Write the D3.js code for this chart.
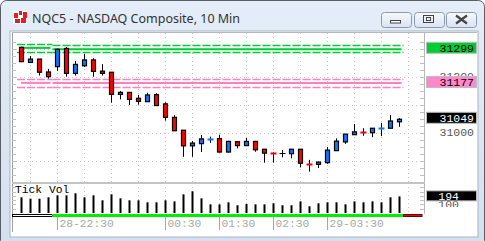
<!DOCTYPE html>
<html>
<head>
<meta charset="utf-8">
<script src="https://cdn.jsdelivr.net/npm/d3@7"></script>
<style>
  body { margin: 0; background: #fff; }
  svg { display: block; }
</style>
</head>
<body>
<div id="chart"></div>
<script>
// 10 minute bars, first bar at 21:50 on the 28th
const startTime = new Date(2025, 0, 28, 21, 50);
const opens = [31306, 31252, 31264, 31218, 31237, 31302, 31213, 31240, 31261, 31221,
  31217, 31138, 31145, 31124, 31112, 31137, 31104, 31056, 31010, 30954,
  30962, 30979, 30980, 30932, 30969, 30955, 30970, 30942, 30928, 30928,
  30926, 30942, 30892, 30888, 30894, 30937, 30968, 30994, 31003, 31001,
  31017, 31017, 31040];
const highs = [31308, 31275, 31264, 31229, 31301, 31307, 31257, 31282, 31267, 31246,
  31217, 31150, 31145, 31136, 31144, 31142, 31110, 31064, 31010, 30971,
  30993, 30987, 30994, 30972, 30970, 30982, 30970, 30942, 30931, 30939,
  30942, 30942, 30904, 30898, 30950, 30981, 30996, 31032, 31017, 31017,
  31036, 31064, 31053];
const lows = [31253, 31252, 31205, 31194, 31222, 31201, 31205, 31236, 31201, 31205,
  31108, 31120, 31100, 31101, 31112, 31098, 31044, 31008, 30915, 30915,
  30932, 30965, 30930, 30930, 30945, 30955, 30933, 30894, 30894, 30913,
  30910, 30877, 30862, 30875, 30890, 30937, 30961, 30994, 30990, 30985,
  30989, 31017, 31022];
const closes = [31255, 31264, 31217, 31201, 31299, 31213, 31245, 31261, 31220, 31213,
  31138, 31145, 31120, 31113, 31136, 31098, 31056, 31008, 30954, 30964,
  30979, 30980, 30932, 30970, 30955, 30970, 30940, 30928, 30927, 30928,
  30942, 30892, 30891, 30896, 30939, 30971, 30996, 31004, 31002, 31017,
  31018, 31043, 31049];
const volumes = [183, 167, 167, 183, 206, 206, 230, 183, 206, 148,
  218, 171, 148, 148, 125, 125, 148, 136, 218, 253,
  171, 101, 101, 125, 90, 105, 101, 101, 113, 90,
  90, 136, 78, 113, 125, 125, 101, 136, 125, 136,
  125, 183, 194];

// band levels: [upper dashed, solid, lower dashed], before and after the 22:30 session start
const greenLevels = [[31317, 31304, 31291], [31313, 31299, 31290]];
const pinkLevels = [[31193, 31179, 31165], [31193, 31179, 31163]];
const sessionStart = 4;

const tickIndex = [4, 16, 22, 28, 34];
const tickLabels = ["28-22:30", "00:30", "01:30", "02:30", "29-03:30"];
const priceLabels = [31200, 31000];
const lastTags = [
  { value: 31299, fill: "#00cc33", color: "#000" },
  { value: 31177, fill: "#ff88cc", color: "#000" },
  { value: 31049, fill: "#000", color: "#fff" }
];
const volumeLabel = 100;

const W = 485, H = 241;
const svg = d3.select("#chart").append("svg")
  .attr("width", W)
  .attr("height", H)
  .style("font-family", "'Liberation Mono', 'DejaVu Sans Mono', monospace");

const defs = svg.append("defs");
let g1 = defs.append("linearGradient").attr("id", "titleGrad").attr("x1", 0).attr("y1", 0).attr("x2", 0).attr("y2", 1);
g1.append("stop").attr("offset", 0).attr("stop-color", "#e4edf8");
g1.append("stop").attr("offset", 1).attr("stop-color", "#d3e0f1");
let g2 = defs.append("linearGradient").attr("id", "btnGrad").attr("x1", 0).attr("y1", 0).attr("x2", 0).attr("y2", 1);
g2.append("stop").attr("offset", 0).attr("stop-color", "#f6f9fd");
g2.append("stop").attr("offset", 1).attr("stop-color", "#d9e3f0");
defs.append("clipPath").attr("id", "volAxisClip")
  .append("rect").attr("x", 424).attr("y", 183).attr("width", 60).attr("height", 24);

// window frame
svg.append("rect").attr("x", 0.5).attr("y", 0.5).attr("width", W - 1).attr("height", H + 5)
  .attr("rx", 6).attr("fill", "url(#titleGrad)").attr("stroke", "#5a5f66");
svg.append("rect").attr("x", 10).attr("y", 31).attr("width", 468).attr("height", 206)
  .attr("fill", "#fff").attr("stroke", "#a8b4c2");

// title icon
const icon = svg.append("g").attr("transform", "translate(13,11)");
icon.append("rect").attr("width", 14).attr("height", 13).attr("fill", "#fff");
[[1, 2, 4, 5], [6, 0, 3, 4], [10, 1, 4, 6], [2, 8, 5, 4], [8, 7, 5, 5]].forEach(d => {
  icon.append("rect").attr("x", d[0]).attr("y", d[1]).attr("width", d[2]).attr("height", d[3]).attr("fill", "#e02020");
});

svg.append("text")
  .attr("x", 32).attr("y", 23)
  .attr("font-family", "'Noto Sans', 'DejaVu Sans', sans-serif")
  .attr("font-size", 13)
  .attr("fill", "#333")
  .attr("textLength", 208)
  .attr("lengthAdjust", "spacingAndGlyphs")
  .text("NQC5 - NASDAQ Composite, 10 Min");

// caption buttons
[381, 414, 446].forEach((bx, i) => {
  svg.append("rect").attr("x", bx + 0.5).attr("y", 12.5).attr("width", 30).attr("height", 15)
    .attr("rx", 3).attr("fill", "url(#btnGrad)").attr("stroke", "#8d9aab");
  if (i === 0) {
    svg.append("rect").attr("x", 390.5).attr("y", 20.5).attr("width", 10).attr("height", 2.5)
      .attr("fill", "#fff").attr("stroke", "#444");
  } else if (i === 1) {
    svg.append("rect").attr("x", 423.5).attr("y", 15.5).attr("width", 10).attr("height", 7)
      .attr("fill", "none").attr("stroke", "#444");
    svg.append("rect").attr("x", 426.5).attr("y", 17.5).attr("width", 4).attr("height", 3)
      .attr("fill", "none").attr("stroke", "#444");
  } else {
    svg.append("path").attr("d", "M456,15.5 L467,23.5 M467,15.5 L456,23.5")
      .attr("stroke", "#444").attr("stroke-width", 2.2).attr("fill", "none");
  }
});

// layout
const plotLeft = 12, plotRight = 424;
const priceTop = 33, priceBottom = 182;
const volTop = 183, volBottom = 213;

const times = d3.range(opens.length).map(i => d3.timeMinute.offset(startTime, 10 * i));
const x = d3.scaleTime()
  .domain([times[0], times[times.length - 1]])
  .range([21, 399]);
const step = x(times[1]) - x(times[0]);

const y = d3.scaleLinear().domain([30900, 31300]).range([161, 49]);
const yv = d3.scaleLinear().domain([0, 350]).range([volBottom, volTop]);

// grid lines
const gridTimes = d3.range(1, 44, 3).map(i => d3.timeMinute.offset(startTime, 10 * i));
const grid = svg.append("g")
  .attr("stroke", "#c8c8c8")
  .attr("stroke-dasharray", "1,3");
grid.selectAll(".vg").data(gridTimes).enter().append("line")
  .attr("x1", d => Math.round(x(d)) + 0.5).attr("x2", d => Math.round(x(d)) + 0.5)
  .attr("y1", priceTop).attr("y2", priceBottom);
grid.selectAll(".hg").data([30900, 31000, 31100, 31200, 31300]).enter().append("line")
  .attr("x1", plotLeft).attr("x2", plotRight)
  .attr("y1", d => Math.round(y(d)) + 0.5).attr("y2", d => Math.round(y(d)) + 0.5);
grid.selectAll(".vgv").data(gridTimes).enter().append("line")
  .attr("x1", d => Math.round(x(d)) + 0.5).attr("x2", d => Math.round(x(d)) + 0.5)
  .attr("y1", volTop).attr("y2", volBottom);

// panel borders and edge ticks
svg.append("line").attr("x1", plotLeft + 0.5).attr("x2", plotLeft + 0.5).attr("y1", priceTop).attr("y2", 232).attr("stroke", "#a0a0a0");
svg.append("line").attr("x1", plotRight + 0.5).attr("x2", plotRight + 0.5).attr("y1", priceTop).attr("y2", 214).attr("stroke", "#b8b8b8");
svg.append("line").attr("x1", plotLeft).attr("x2", 477).attr("y1", priceTop - 0.5).attr("y2", priceTop - 0.5).attr("stroke", "#b8b8b8");
svg.append("rect").attr("x", plotLeft).attr("y", priceBottom).attr("width", plotRight - plotLeft + 1).attr("height", 2).attr("fill", "#c4c4c4");

const minorTicks = d3.range(30825, 31350, 25);
svg.append("g").selectAll("line").data(minorTicks).enter().append("line")
  .attr("x1", plotRight - 4).attr("x2", plotRight)
  .attr("y1", d => Math.round(y(d)) + 0.5).attr("y2", d => Math.round(y(d)) + 0.5)
  .attr("stroke", "#c0c0c0");
svg.append("g").selectAll("line").data(minorTicks).enter().append("line")
  .attr("x1", plotLeft).attr("x2", plotLeft + 4)
  .attr("y1", d => Math.round(y(d)) + 0.5).attr("y2", d => Math.round(y(d)) + 0.5)
  .attr("stroke", "#c0c0c0");
svg.append("g").selectAll("line").data([50, 100, 150, 200, 250, 300]).enter().append("line")
  .attr("x1", plotLeft).attr("x2", plotLeft + 4)
  .attr("y1", d => Math.round(yv(d)) + 0.5).attr("y2", d => Math.round(yv(d)) + 0.5)
  .attr("stroke", "#c0c0c0");
svg.append("g").selectAll("line").data([50, 100, 150, 200, 250, 300]).enter().append("line")
  .attr("x1", plotRight - 4).attr("x2", plotRight)
  .attr("y1", d => Math.round(yv(d)) + 0.5).attr("y2", d => Math.round(yv(d)) + 0.5)
  .attr("stroke", "#c0c0c0");

// level bands
const xSplit = x(times[sessionStart]) - step / 2;
const xEnd = x(times[times.length - 1]) + step / 2;
function drawBand(levels, color) {
  const segs = [[plotLeft + 5, xSplit, levels[0]], [xSplit, xEnd, levels[1]]];
  segs.forEach(s => {
    const lv = s[2];
    [0, 2].forEach(k => {
      svg.append("line")
        .attr("x1", s[0]).attr("x2", s[1])
        .attr("y1", Math.round(y(lv[k])) + 0.5).attr("y2", Math.round(y(lv[k])) + 0.5)
        .attr("stroke", color).attr("stroke-width", 1.3)
        .attr("stroke-dasharray", "8,2");
    });
    svg.append("line")
      .attr("x1", Math.max(s[0], x(times[0]))).attr("x2", s[1] - 2)
      .attr("y1", y(lv[1])).attr("y2", y(lv[1]))
      .attr("stroke", color).attr("stroke-width", 2);
  });
}
drawBand(greenLevels, "#00cc33");
drawBand(pinkLevels, "#ff80c0");

// candles
const blue = "#0a78ff", red = "#ff0000";
const candles = svg.append("g").selectAll("g").data(times).enter().append("g");
candles.append("line")
  .attr("x1", (d, i) => Math.round(x(d)) + 0.5).attr("x2", (d, i) => Math.round(x(d)) + 0.5)
  .attr("y1", (d, i) => y(highs[i])).attr("y2", (d, i) => y(lows[i]))
  .attr("stroke", "#000");
candles.each(function (d, i) {
  const cx = Math.round(x(d));
  const o = opens[i], c = closes[i];
  const top = y(Math.max(o, c)), bot = y(Math.min(o, c));
  if (bot - top < 1.5) {
    d3.select(this).append("line")
      .attr("x1", cx - 2.5).attr("x2", cx + 3.5)
      .attr("y1", Math.round(y(c)) + 0.5).attr("y2", Math.round(y(c)) + 0.5)
      .attr("stroke", c > o ? blue : c < o ? red : "#000")
      .attr("stroke-width", c === o ? 1 : 2);
  } else {
    d3.select(this).append("rect")
      .attr("x", cx - 1.5).attr("y", top)
      .attr("width", 4).attr("height", bot - top)
      .attr("fill", c > o ? blue : red)
      .attr("stroke", "#000").attr("stroke-width", 1.2);
  }
});

// volume
svg.append("g").selectAll("rect").data(volumes).enter().append("rect")
  .attr("x", (d, i) => Math.round(x(times[i])) - 0.5)
  .attr("y", d => yv(d))
  .attr("width", 2)
  .attr("height", d => volBottom - yv(d))
  .attr("fill", "#000");
svg.append("text").attr("x", 15).attr("y", 193)
  .attr("font-size", 11.3).attr("fill", "#000").text("Tick Vol");

// session strip under the volume
svg.append("rect").attr("x", plotLeft + 0.5).attr("y", 214.5).attr("width", xSplit - plotLeft - 1).attr("height", 2)
  .attr("fill", "#fff").attr("stroke", "#000");
svg.append("rect").attr("x", xSplit).attr("y", 214).attr("width", xEnd - xSplit).attr("height", 3)
  .attr("fill", "#00ee00");
svg.append("rect").attr("x", xEnd).attr("y", 214.5).attr("width", 422 - xEnd).attr("height", 2)
  .attr("fill", "#ee0000").attr("stroke", "#600");

// time axis
const timeAxis = svg.append("g");
tickIndex.forEach((ti, k) => {
  const tx = Math.round(x(times[ti])) + 0.5;
  timeAxis.append("line").attr("x1", tx).attr("x2", tx).attr("y1", 217).attr("y2", 230).attr("stroke", "#a8a8a8");
  timeAxis.append("text").attr("x", tx + 2).attr("y", 227)
    .attr("font-size", 11.3).attr("fill", "#a8a8a8").text(tickLabels[k]);
});

// price axis labels
svg.append("g").selectAll("text").data(priceLabels).enter().append("text")
  .attr("x", 474).attr("y", d => y(d) + 3)
  .attr("text-anchor", "end").attr("font-size", 11.5).attr("fill", "#555")
  .text(d => d);

lastTags.forEach(t => {
  const ty = y(t.value) - 1.5;
  svg.append("rect").attr("x", 426.5).attr("y", ty - 5.5).attr("width", 50).attr("height", 11)
    .attr("fill", t.fill).attr("stroke", "#bdbdbd");
  svg.append("text").attr("x", 474).attr("y", ty + 4)
    .attr("text-anchor", "end").attr("font-size", 11.5).attr("fill", t.color).text(t.value);
});

// volume axis
svg.append("text").attr("x", 459).attr("y", yv(volumeLabel) + 4)
  .attr("clip-path", "url(#volAxisClip)")
  .attr("text-anchor", "end").attr("font-size", 11.5).attr("fill", "#555").text(volumeLabel);
const lastVol = volumes[volumes.length - 1];
svg.append("rect").attr("x", 426.5).attr("y", yv(lastVol) - 5.5).attr("width", 50).attr("height", 10)
  .attr("fill", "#000").attr("stroke", "#bdbdbd");
svg.append("text").attr("x", 459).attr("y", yv(lastVol) + 3.5)
  .attr("text-anchor", "end").attr("font-size", 11.5).attr("fill", "#fff").text(lastVol);
</script>
</body>
</html>
